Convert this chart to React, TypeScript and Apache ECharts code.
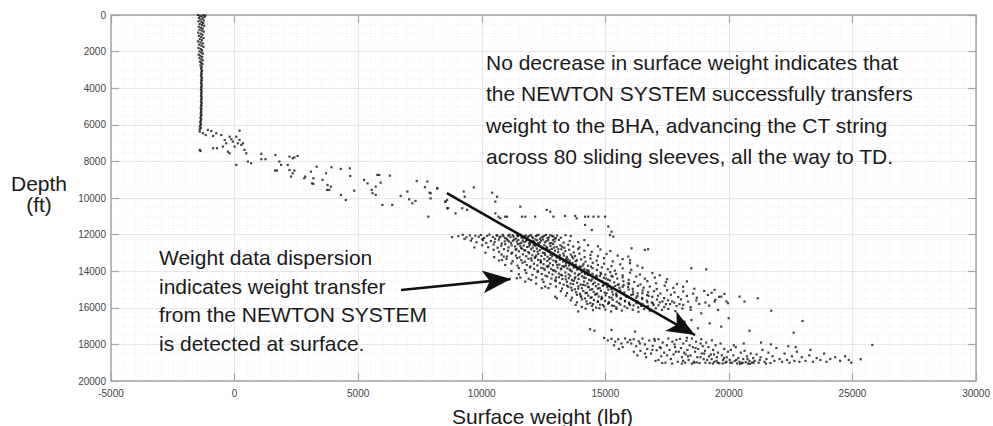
import React, { useEffect, useRef } from "react";
import * as echarts from "echarts";

// x: surface weight (lbf), y: depth (ft)
const xTicks = { min: -5000, max: 30000, interval: 5000 };
const yTicks = { min: 0, max: 20000, interval: 2000 };

const verticalSection: number[][] = [
  [-1480,0],[-1260,10],[-1180,30],[-1400,50],[-1330,80],[-1220,120],[-1440,160],[-1300,200],[-1380,250],[-1250,300],
  [-1460,340],[-1340,390],[-1270,440],[-1410,490],[-1320,540],[-1230,590],[-1450,640],[-1360,690],[-1290,740],[-1420,800],
  [-1330,850],[-1250,910],[-1470,960],[-1370,1020],[-1300,1080],[-1440,1140],[-1350,1200],[-1260,1260],[-1410,1320],[-1320,1380],
  [-1480,1440],[-1380,1500],[-1290,1560],[-1430,1620],[-1340,1680],[-1260,1740],[-1460,1800],[-1370,1860],[-1310,1920],[-1420,1990],
  [-1350,2050],[-1280,2110],[-1450,2170],[-1380,2230],[-1310,2290],[-1420,2360],[-1340,2420],[-1290,2480],[-1400,2550],[-1350,2610],
  [-1300,2680],[-1380,2750],[-1330,2820],[-1360,2900],[-1340,2980],[-1320,3060],[-1350,3140],[-1330,3220],[-1360,3300],[-1340,3380],
  [-1320,3460],[-1350,3540],[-1330,3620],[-1360,3700],[-1340,3780],[-1330,3860],[-1350,3940],[-1340,4020],[-1360,4100],[-1330,4180],
  [-1350,4260],[-1340,4340],[-1360,4420],[-1330,4500],[-1350,4580],[-1340,4660],[-1360,4740],[-1330,4820],[-1350,4900],[-1340,4980],
  [-1370,5060],[-1340,5140],[-1360,5220],[-1350,5300],[-1370,5380],[-1340,5460],[-1360,5540],[-1380,5620],[-1350,5700],[-1370,5780],
  [-1390,5860],[-1360,5940],[-1380,6020],[-1400,6100],[-1370,6180],[-1410,6250],
];

const transitionPoints: number[][] = [
  [-1410,6370],[-1280,6460],[-1170,6560],[-1080,6280],[-940,6340],[-870,6610],[-740,6460],[-540,6560],[-400,6830],[-340,7010],
  [-200,6650],[-130,6790],[-70,6920],[0,7190],[70,6650],[130,7010],[200,6320],[200,6830],[270,7100],[340,7010],
  [400,7370],[470,7560],[540,8010],[670,8100],[-870,7280],[-710,7280],[-470,7190],[-270,7470],[-200,7560],[70,8190],
  [-1410,7370],[-1380,7430],[1080,7590],[1250,7880],[1080,7880],[1650,7650],[1810,8010],[1880,8190],[2220,7740],[2350,7830],
  [2420,7780],[2550,7700],[1640,8500],[1710,8500],[2150,8190],[2220,8470],[2420,8500],[2280,8830],[2350,8650],[2820,8920],
  [2860,8830],[3090,8560],[3190,8920],[3130,9200],[3190,9230],[3320,8290],[3560,9010],[3700,8650],[3760,9290],[3830,9560],
  [3900,9380],[3740,9560],[3920,8320],[4300,8410],[4300,9830],[4500,10110],[4660,8380],[4680,8800],[4840,9600],[5240,9010],
  [5380,9200],[5550,9560],[5580,9740],[5710,9830],[5780,8740],[5850,8740],[5910,9160],[5710,9380],[5980,10380],[6280,8780],
  [6380,10380],[6720,9890],[6990,9650],[7060,10070],[7190,10290],[7320,10160],[7370,9070],[7700,9410],[7800,9100],[7890,9710],
  [7930,10020],[8200,9470],[7840,11020],[8530,10200],[8640,10560],[8600,10110],
];

const upperScatter: number[][] = [
  [7930,9740],[8200,9470],[8530,10200],[8600,10560],[8940,10840],[9270,9650],[9310,9930],[9210,10560],[9410,10650],[9680,9420],
  [10420,9710],[10550,10200],[10620,9930],[10550,10840],[10680,11020],[10750,11110],[10950,11020],[11020,11020],[11560,10470],[11630,11020],
  [11760,11020],[12160,11020],[12630,10650],[12770,10750],[12900,11020],[13370,10980],[13780,10980],[13840,11110],[14180,11020],[14310,11020],
  [14520,11020],[14720,11020],[14990,11020],[14180,11470],[14450,11750],[15120,11560],[15250,11840],[15320,12110],[15190,12020],
];

const mainCluster: number[][] = [
  [9050,12080],[9230,12010],[9380,12150],[9520,12040],[9610,12210],[9740,12060],[9880,12120],[9960,12020],[10100,12180],[10220,12070],
  [10310,12000],[10450,12130],[10540,12230],[10630,12050],[10760,12110],[10850,12010],[10940,12190],[11070,12060],[11160,12140],[11250,12030],
  [11380,12220],[11470,12090],[11560,12000],[11690,12160],[11780,12050],[11870,12120],[11990,12020],[12080,12200],[12190,12080],[12300,12010],
  [12420,12150],[12530,12060],[12660,12190],[12780,12030],[12900,12110],[13050,12050],[13200,12170],[13390,12030],[13600,12080],[8800,12140],
  [9300,12240],[10020,12250],[11820,12240],[12950,12230],
  [9560,12330],[9790,12420],[10050,12290],[10180,12460],[10370,12350],[10520,12400],[10690,12280],[10810,12490],[10930,12370],[11050,12310],
  [11190,12450],[11310,12270],[11420,12380],[11540,12480],[11660,12320],[11730,12410],[11850,12290],[11960,12440],[12070,12360],[12180,12270],
  [12290,12470],[12400,12330],[12560,12420],[12690,12300],[12820,12460],[12950,12380],[13120,12290],[13310,12440],[13560,12350],[13900,12410],[14150,12300],
  [10020,12580],[10260,12690],[10480,12540],[10640,12720],[10790,12610],[10950,12530],[11080,12700],[11210,12590],[11350,12650],[11460,12520],
  [11590,12740],[11700,12600],[11830,12680],[11950,12550],[12060,12710],[12170,12620],[12300,12540],[12410,12690],[12530,12580],[12650,12740],
  [12780,12620],[12890,12520],[13030,12680],[13180,12590],[13340,12720],[13500,12560],[13700,12650],[13950,12700],[14300,12580],[14700,12640],[9700,12700],
  [10480,12830],[10700,12940],[10900,12790],[11060,12880],[11230,12980],[11370,12820],[11500,12910],[11640,12770],[11760,12860],[11880,12950],
  [12000,12800],[12120,12900],[12230,12760],[12350,12850],[12470,12990],[12590,12810],[12700,12920],[12830,12780],[12960,12880],[13090,12960],
  [13220,12800],[13380,12900],[13540,12830],[13720,12970],[13900,12790],[14150,12880],[14450,12940],[14800,12810],[15200,12900],[10150,12990],
  [10800,13090],[11020,13200],[11200,13040],[11380,13150],[11530,13240],[11670,13080],[11800,13180],[11920,13020],[12050,13130],[12170,13230],
  [12290,13060],[12410,13170],[12540,13010],[12660,13210],[12780,13100],[12900,13050],[13030,13190],[13160,13120],[13300,13030],[13440,13220],
  [13600,13090],[13770,13170],[13950,13040],[14160,13230],[14400,13110],[14700,13180],[15050,13060],[15500,13150],[10500,13230],
  [11000,13330],[11250,13450],[11430,13290],[11600,13400],[11750,13480],[11890,13320],[12020,13420],[12150,13270],[12280,13380],[12400,13490],
  [12530,13340],[12650,13440],[12780,13300],[12900,13410],[13030,13260],[13160,13370],[13290,13470],[13420,13330],[13560,13430],[13700,13290],
  [13850,13400],[14020,13350],[14200,13480],[14400,13310],[14650,13420],[14950,13280],[15300,13460],[15700,13340],[16000,13400],[10700,13420],
  [11200,13580],[11450,13700],[11650,13540],[11820,13660],[11970,13740],[12110,13590],[12250,13680],[12380,13530],[12500,13620],[12630,13730],
  [12760,13570],[12880,13670],[13010,13510],[13140,13640],[13270,13720],[13400,13580],[13530,13690],[13670,13550],[13810,13650],[13960,13740],
  [14120,13600],[14300,13700],[14490,13540],[14700,13660],[14950,13590],[15250,13720],[15600,13630],[16000,13560],[16300,13700],[10950,13660],
  [11500,13830],[11750,13940],[11950,13790],[12120,13880],[12270,13980],[12410,13820],[12550,13920],[12680,13770],[12810,13870],[12940,13960],
  [13070,13800],[13200,13900],[13330,13760],[13460,13850],[13590,13950],[13720,13810],[13860,13910],[14000,13780],[14150,13880],[14310,13970],
  [14480,13830],[14660,13930],[14860,13790],[15100,13890],[15380,13970],[15700,13840],[16050,13920],[16500,13810],[11200,13990],
  [11800,14090],[12050,14200],[12260,14040],[12430,14150],[12580,14240],[12720,14080],[12860,14180],[12990,14020],[13120,14130],[13250,14230],
  [13380,14070],[13510,14170],[13640,14010],[13770,14120],[13900,14220],[14040,14060],[14180,14160],[14330,14030],[14480,14140],[14640,14240],
  [14810,14090],[15000,14190],[15200,14050],[15430,14150],[15700,14230],[16000,14080],[16400,14180],[16900,14100],[17200,14220],[11500,14170],
  [12200,14340],[12450,14450],[12650,14290],[12820,14400],[12980,14490],[13120,14330],[13260,14430],[13390,14280],[13520,14380],[13650,14480],
  [13790,14320],[13920,14420],[14060,14270],[14200,14370],[14340,14470],[14480,14310],[14630,14410],[14780,14260],[14940,14360],[15110,14460],
  [15290,14300],[15480,14400],[15700,14340],[15950,14470],[16250,14290],[16600,14410],[17000,14350],[17500,14440],[11900,14410],[12000,14480],
  [12500,14590],[12780,14700],[12990,14540],[13160,14650],[13310,14740],[13450,14580],[13590,14680],[13720,14530],[13860,14630],[14000,14730],
  [14140,14570],[14280,14670],[14420,14520],[14570,14620],[14720,14720],[14870,14560],[15030,14660],[15190,14510],[15360,14610],[15540,14710],
  [15730,14550],[15940,14650],[16170,14590],[16420,14720],[16700,14540],[17050,14660],[17450,14600],[17900,14700],[18300,14560],[12200,14680],
  [13000,14840],[13250,14950],[13450,14790],[13620,14900],[13770,14990],[13910,14830],[14050,14930],[14190,14780],[14330,14880],[14470,14980],
  [14620,14820],[14770,14920],[14920,14770],[15080,14870],[15240,14970],[15400,14810],[15570,14910],[15740,14760],[15920,14860],[16110,14960],
  [16320,14800],[16550,14900],[16800,14840],[17080,14970],[17400,14790],[17750,14910],[18150,14850],[18600,14960],[12700,14920],
  [13200,15090],[13450,15200],[13650,15040],[13820,15150],[13970,15240],[14110,15080],[14250,15180],[14390,15020],[14530,15130],[14670,15230],
  [14820,15070],[14970,15170],[15120,15010],[15280,15120],[15440,15220],[15600,15060],[15770,15160],[15940,15000],[16120,15110],[16310,15210],
  [16510,15050],[16730,15150],[16970,15090],[17230,15220],[17500,15040],[17800,15160],[18150,15100],[18550,15230],[19000,15080],[19300,15180],
  [13400,15340],[13650,15450],[13850,15290],[14020,15400],[14170,15490],[14310,15330],[14450,15430],[14590,15280],[14730,15380],[14870,15480],
  [15010,15320],[15160,15420],[15310,15270],[15460,15370],[15620,15470],[15780,15310],[15950,15410],[16120,15260],[16300,15360],[16490,15460],
  [16690,15300],[16900,15400],[17130,15340],[17380,15470],[17650,15290],[17950,15410],[18300,15350],[18700,15450],[19150,15300],[19600,15400],
  [13600,15590],[13850,15700],[14050,15540],[14230,15650],[14390,15740],[14540,15580],[14690,15680],[14840,15530],[14990,15630],[15140,15730],
  [15300,15570],[15460,15670],[15620,15520],[15790,15620],[15960,15720],[16130,15560],[16310,15660],[16490,15510],[16680,15610],[16880,15710],
  [17090,15550],[17310,15650],[17540,15590],[17790,15720],[18060,15540],[18350,15660],[18680,15600],[19050,15710],[19450,15560],[19900,15650],
  [13800,15840],[14050,15950],[14270,15790],[14460,15900],[14630,15990],[14790,15830],[14950,15930],[15110,15780],[15270,15880],[15440,15980],
  [15610,15820],[15780,15920],[15960,15770],[16140,15870],[16330,15970],[16520,15810],[16720,15910],[16930,15760],[17150,15860],[17380,15960],
  [17620,15800],[17880,15900],[18150,15840],[18450,15960],[18800,15790],[19200,15880],
  [14200,16050],[14500,16130],[14760,16020],[15000,16100],[15230,16200],[15450,16060],[15670,16150],[15890,16010],[16110,16110],[16340,16220],
  [16570,16070],[16800,16160],[17040,16030],[17290,16120],[17550,16060],[17830,16180],[18120,16040],[18450,16110],[13900,16200],
];

const clusterCore: number[][] = [
  [10600,12040],[10720,12160],[10880,12090],[11010,12230],[11120,12010],[11290,12110],[11430,12040],[11610,12170],[11730,12100],[11920,12070],
  [12040,12130],[12240,12040],[12360,12230],[12480,12110],[12600,12020],[12720,12150],[12850,12070],[13000,12190],[11100,12380],[11260,12330],
  [11480,12290],[11610,12440],[11790,12350],[11910,12480],[12120,12400],[12240,12310],[12350,12430],[12480,12270],[12620,12350],[12750,12480],[12880,12300],
  [11400,12800],[11560,12620],[11720,12860],[11900,12650],[12100,12560],[12260,12930],[12450,12760],[12620,12660],[12740,12850],[12920,12710],[13100,12800],[13250,12660],
  [12000,13300],[12200,13150],[12380,13400],[12560,13100],[12720,13350],[12850,13180],[13000,13450],[13150,13250],[13320,13150],[13480,13350],[13650,13200],[13800,13450],
  [12500,13850],[12700,13700],[12880,13950],[13050,13650],[13220,13850],[13400,13700],[13560,13900],[13740,13660],[13900,13850],[14080,13700],[14250,13950],[14420,13750],
  [13000,14350],[13200,14200],[13400,14450],[13580,14250],[13760,14400],[13950,14150],[14130,14350],[14300,14200],[14470,14450],[14650,14300],[14830,14150],[15020,14400],[15250,14250],
  [13500,14850],[13700,14700],[13900,14950],[14100,14750],[14300,14850],[14500,14700],[14700,14950],[14900,14800],[15100,14700],[15300,14900],[15500,14750],[15700,14850],[15950,14700],
  [14000,15350],[14200,15200],[14400,15450],[14620,15250],[14850,15400],[15050,15200],[15250,15450],[15450,15300],[15650,15200],[15850,15400],[16050,15300],[16250,15450],[16500,15200],[16750,15350],
  [14500,15800],[14700,15650],[14900,15850],[15150,15700],[15350,15900],[15550,15750],[15800,15650],[16000,15850],[16250,15750],[16450,15900],[16700,15700],[16950,15850],[17200,15700],[17450,15800],[17700,15650],[18000,15800],
];

const clusterFringe: number[][] = [
  [11420,14390],[11560,14350],[11760,14570],[10890,13200],[10820,13390],[12430,14930],[12570,14840],[12970,15390],[13040,15480],
  [18480,13840],[19080,13900],[19690,15390],[19820,15240],[19420,15020],[16600,12840],[16730,12800],[16060,12750],[15930,13200],
  [21170,15480],[21710,16160],[19990,16570],[19690,17030],[19960,15750],[20430,15390],[20630,15660],[19420,15660],[19560,16120],
  [18880,16300],[19220,16850],[18480,16670],[18750,17120],[18210,16760],
];

const lowerBand: number[][] = [
  [14950,17650],[15100,17780],[15250,17700],[15400,17850],[15520,17720],[15650,17950],[15800,17680],[15900,17880],[15350,18050],[15700,18150],
  [16000,17760],[15550,18250],
  [16050,17950],[16150,17720],[16250,18100],[16350,17830],[16420,18350],[16500,17680],[16600,18000],[16700,18250],[16780,17790],[16850,18500],
  [16920,18080],[16980,17700],[16300,18600],[16650,18700],[16150,18400],
  [17030,18900],[17080,18320],[17150,17720],[17200,18150],[17260,18650],[17320,17900],[17380,18450],[17430,19000],[17490,18050],[17550,17680],
  [17600,18300],[17650,18800],[17710,17850],[17760,18550],[17820,18150],[17880,17750],[17930,18950],[17970,18400],[17300,19020],[17700,19050],[17150,18850],
  [18020,17700],[18060,18200],[18100,18700],[18150,17950],[18190,18450],[18230,19000],[18280,17800],[18320,18300],[18370,18850],[18410,18050],
  [18450,18600],[18500,17680],[18540,18150],[18580,18950],[18630,18400],[18670,17850],[18720,18700],[18760,18250],[18810,19020],[18850,17950],
  [18900,18500],[18940,18100],[18980,18800],[18100,19050],[18500,19050],[18700,18980],[18300,17640],[18880,17720],
  [19030,18350],[19080,17900],[19120,18850],[19170,18150],[19220,19020],[19270,18550],[19310,17780],[19360,18300],[19410,18950],[19460,18050],
  [19510,18700],[19560,18450],[19610,19030],[19660,17950],[19710,18600],[19760,18850],[19810,18250],[19860,19000],[19910,18700],[19960,18400],
  [19200,18650],[19500,18900],[19750,19040],[19350,19050],[19900,18950],
  [20030,18850],[20080,18300],[20130,19000],[20180,18600],[20230,18900],[20280,18150],[20330,19040],[20380,18750],[20430,18950],[20480,18450],
  [20530,19030],[20580,18800],[20630,18350],[20680,18980],[20730,18650],[20780,19050],[20830,18900],[20880,18500],[20930,19000],[20980,18750],
  [20200,18050],[20600,17950],[20450,19060],[20850,19060],
  [21040,18900],[21120,18550],[21200,19000],[21280,18700],[21360,18300],[21440,18950],[21520,18800],[21600,18450],[21680,19020],[21760,18650],
  [21840,18900],[21920,18200],[21300,17900],[21700,18000],[21500,19050],
  [22050,18800],[22150,18950],[22250,18500],[22350,18850],[22450,19000],[22550,18650],[22650,18900],[22750,18400],[22850,18950],[22950,18700],
  [22400,18100],[22700,18150],
  [23100,18900],[23250,18600],[23400,18950],[23550,18750],[23700,18850],[23850,18500],[23950,18950],[23300,18300],
  [24100,18800],[24300,18700],[24500,18900],[24700,18650],[24850,18850],[24950,19000],
  [25330,18810],[25800,18030],
];

const lowerCore: number[][] = [
  [18150,18900],[18350,18650],[18600,19000],[18850,18700],[19050,19000],[19300,18800],[19550,19000],[19800,18750],[20050,19000],[20300,18850],
  [20550,19000],[20750,18800],[21000,19000],[21250,18850],[17500,18600],[17850,18400],[18250,18550],[19000,18500],[19400,18550],[16900,18300],
  [17250,18200],[16600,18500],[16400,17950],[17000,17800],[17800,18000],[18650,18200],
];

const lowerOutliers: number[][] = [
  [14380,17170],[14560,17250],[15250,17210],[16200,17300],[20830,17250],[22620,17360],[22980,16720],
];

// annotation arrows in data coordinates: [start, tip]
const arrowLines: number[][][] = [
  [[8590, 9730], [18630, 17490]],
  [[6730, 15030], [11170, 14430]],
];

const noteRight = [
  "No decrease in surface weight indicates that",
  "the NEWTON SYSTEM successfully transfers",
  "weight to the BHA, advancing the CT string",
  "across 80 sliding sleeves, all the way to TD.",
];
const noteLeft = [
  "Weight data dispersion",
  "indicates weight transfer",
  "from the NEWTON SYSTEM",
  "is detected at surface.",
];

const FONT = "'Liberation Sans', Arial, Helvetica, sans-serif";
const AXIS_COLOR = "#a6a6a6";

export default function App() {
  const ref = useRef<HTMLDivElement>(null);

  useEffect(() => {
    if (!ref.current) return;
    const chart = echarts.init(ref.current, undefined, { renderer: "svg" });

    const allPoints = [
      ...verticalSection,
      ...transitionPoints,
      ...upperScatter,
      ...mainCluster,
      ...clusterCore,
      ...clusterFringe,
      ...lowerBand,
      ...lowerCore,
      ...lowerOutliers,
    ];

    const axisCommon = {
      type: "value" as const,
      axisLine: { show: true, onZero: false, lineStyle: { color: AXIS_COLOR, width: 1.5 } },
      axisTick: { show: true, inside: true, length: 8, lineStyle: { color: AXIS_COLOR, width: 1.2 } },
    };

    const textEl = (text: string, x: number, y: number, align: string = "left") => ({
      type: "text",
      x,
      y,
      silent: true,
      z: 100,
      style: {
        text,
        fill: "#1a1a1a",
        font: `21px ${FONT}`,
        align,
        verticalAlign: "middle",
      },
    });

    const rightYs = [62, 93.7, 125.4, 156.7];
    const leftYs = [257, 286, 314.4, 343.4];
    const plainLabel = (v: number) => String(v);

    chart.setOption({
      animation: false,
      backgroundColor: "#ffffff",
      grid: { left: 111, right: 14, top: 15, bottom: 45, containLabel: false },
      xAxis: [
        {
          ...axisCommon,
          position: "bottom",
          min: xTicks.min,
          max: xTicks.max,
          interval: xTicks.interval,
          axisLabel: { color: "#444", fontSize: 10, margin: 7, fontFamily: FONT, formatter: plainLabel },
          splitLine: { show: true, lineStyle: { color: "#e6e6e6", width: 1 } },
          minorTick: { show: false, splitNumber: 10 },
          minorSplitLine: { show: true, lineStyle: { color: "#efefef", width: 1, type: [1, 2] } },
        },
        {
          ...axisCommon,
          position: "top",
          min: xTicks.min,
          max: xTicks.max,
          interval: xTicks.interval,
          axisLabel: { show: false },
          splitLine: { show: false },
        },
      ],
      yAxis: [
        {
          ...axisCommon,
          position: "left",
          inverse: true,
          min: yTicks.min,
          max: yTicks.max,
          interval: yTicks.interval,
          axisLabel: { color: "#444", fontSize: 10, margin: 5, fontFamily: FONT, formatter: plainLabel },
          splitLine: { show: true, lineStyle: { color: "#e6e6e6", width: 1 } },
          minorTick: { show: false, splitNumber: 4 },
          minorSplitLine: { show: true, lineStyle: { color: "#efefef", width: 1, type: [1, 2] } },
        },
        {
          ...axisCommon,
          position: "right",
          inverse: true,
          min: yTicks.min,
          max: yTicks.max,
          interval: yTicks.interval,
          axisLabel: { show: false },
          splitLine: { show: false },
        },
      ],
      series: [
        {
          type: "scatter",
          xAxisIndex: 0,
          yAxisIndex: 0,
          symbol: "rect",
          symbolSize: 2.2,
          itemStyle: { color: "#111" },
          silent: true,
          data: allPoints,
          markLine: {
            silent: true,
            symbol: ["none", "arrow"],
            symbolSize: [17, 28],
            label: { show: false },
            lineStyle: { color: "#111", width: 2.6, type: "solid" },
            data: arrowLines.map(([a, b]) => [{ coord: a }, { coord: b }]),
          },
        },
      ],
      graphic: [
        ...noteRight.map((t, i) => textEl(t, 486, rightYs[i])),
        ...noteLeft.map((t, i) => textEl(t, 159, leftYs[i])),
        textEl("Depth", 39, 183.4, "center"),
        textEl("(ft)", 39, 204.4, "center"),
        textEl("Surface weight (lbf)", 542.5, 416, "center"),
      ],
    });

    return () => chart.dispose();
  }, []);

  return (
    <div
      ref={ref}
      style={{ position: "absolute", left: 0, top: 0, width: 993, height: 426, background: "#fff" }}
    />
  );
}
